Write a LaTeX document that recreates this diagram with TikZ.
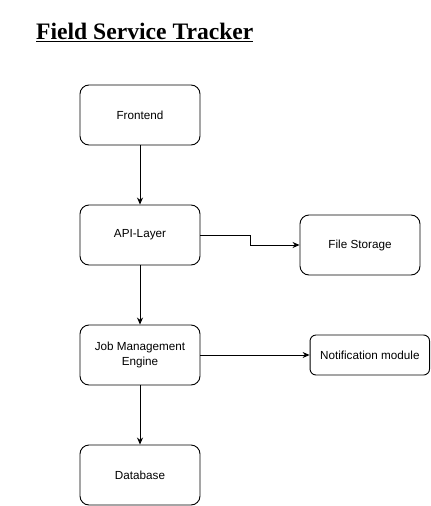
\documentclass[tikz,border=0pt]{standalone}
\usepackage{fontspec}
\setmainfont{Liberation Serif}
\newfontfamily\boxfont{Liberation Sans}
\usetikzlibrary{arrows.meta}
\begin{document}
\begin{tikzpicture}[x=1pt,y=-1pt,
  blk/.style={draw, line width=0.9pt, rounded corners=9pt, font=\boxfont\fontsize{11.7}{15.5}\selectfont, align=center, inner sep=0pt},
  conn/.style={draw, line width=0.9pt, -{Stealth[length=7pt,width=6pt]}}]
\useasboundingbox (0,0) rectangle (431,506);
\node[anchor=base west, inner sep=0pt, font=\bfseries\fontsize{23.6}{28}\selectfont] (title) at (36,39.3) {\underline{Field Service Tracker}};
\node[blk, minimum width=120pt, minimum height=60pt] (fe) at (140,115) {\raisebox{-1pt}{Frontend}};
\node[blk, minimum width=120pt, minimum height=60pt] (api) at (140,235) {\raisebox{-1pt}{API-Layer}};
\node[blk, minimum width=120pt, minimum height=60pt] (fs) at (360,245) {\raisebox{-1pt}{File Storage}};
\node[blk, minimum width=120pt, minimum height=60pt] (job) at (140,355) {\raisebox{-1pt}{Job Management}\\\raisebox{-1pt}{Engine}};
\node[blk, rounded corners=6pt, minimum width=119.5pt, minimum height=40pt] (nm) at (369.8,355) {\raisebox{-1pt}{Notification module}};
\node[blk, minimum width=120pt, minimum height=60pt] (db) at (140,475) {\raisebox{-1pt}{Database}};
\coordinate (m1) at (250,235);
\coordinate (m2) at (250,245);
\draw[conn] (fe) -- (api);
\draw[conn] (api.east) -- (m1) -- (m2) -- (fs.west);
\draw[conn] (api) -- (job);
\draw[conn] (job) -- (nm);
\draw[conn] (job) -- (db);
\end{tikzpicture}
\end{document}
